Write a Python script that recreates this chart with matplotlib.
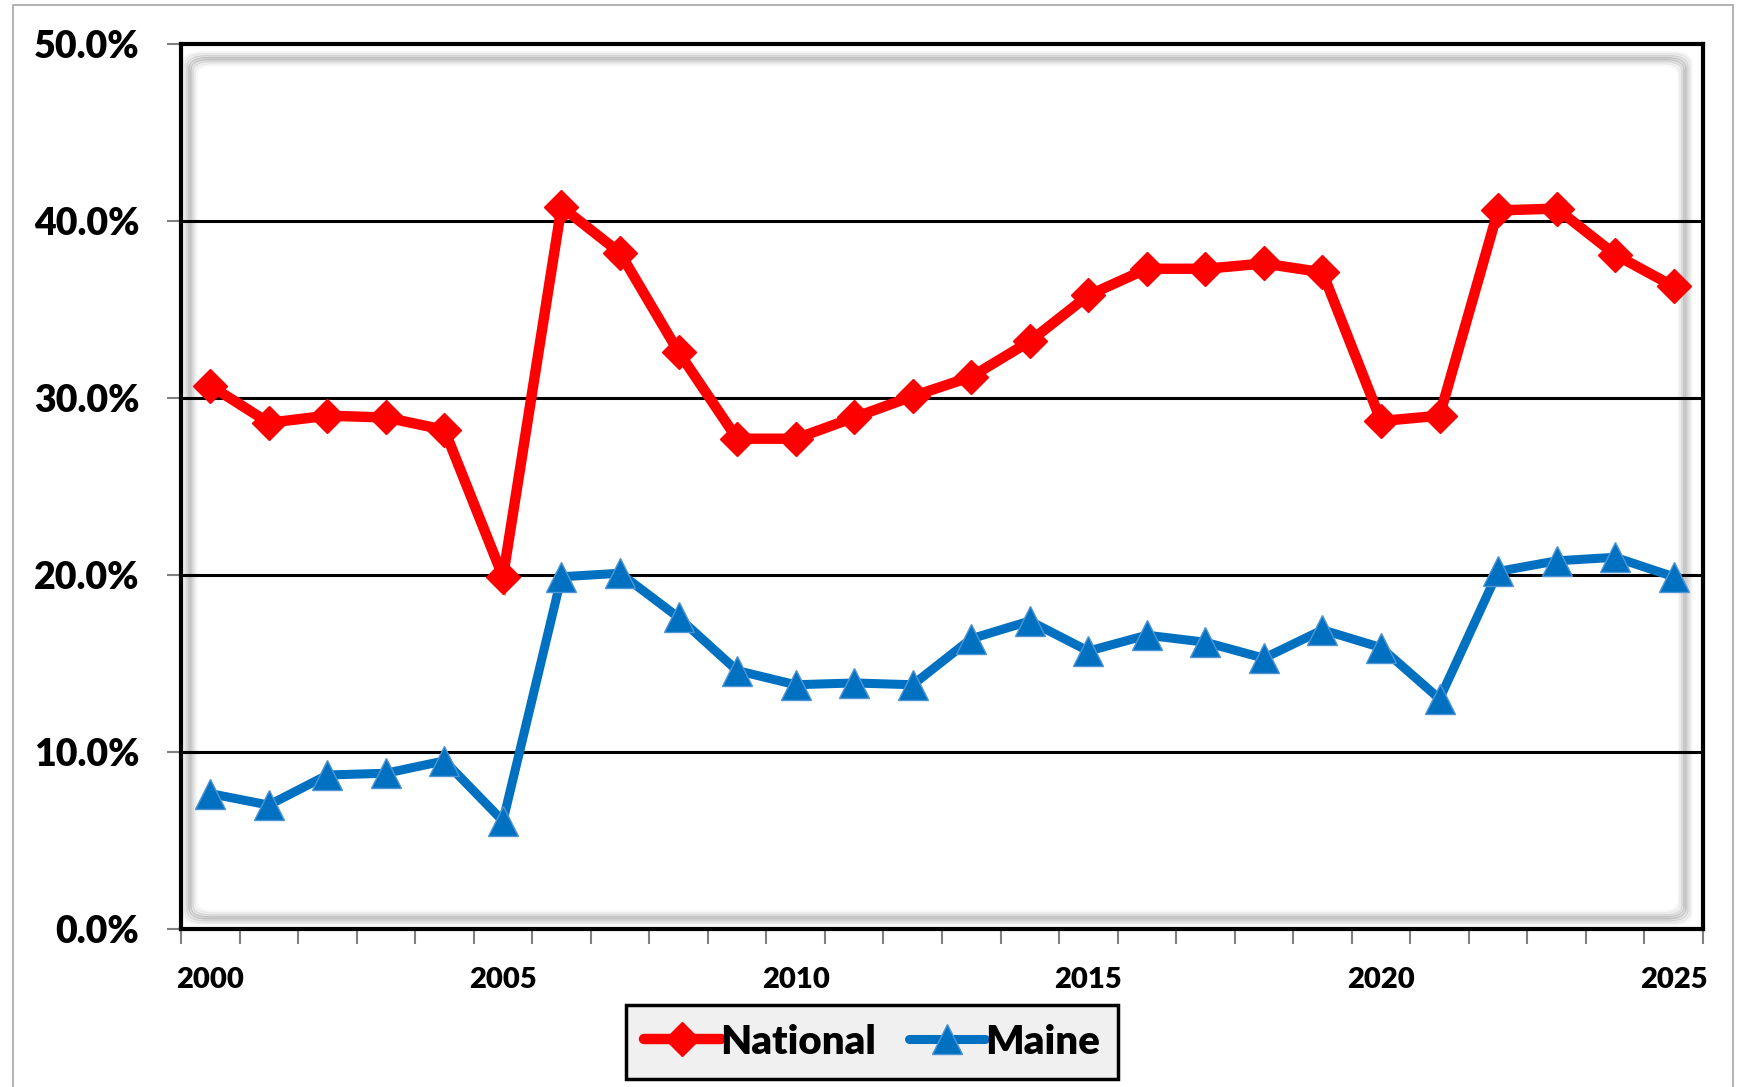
import matplotlib
matplotlib.use("Agg")
import matplotlib.pyplot as plt
from matplotlib.lines import Line2D
from matplotlib.patches import FancyBboxPatch, Rectangle
import numpy as np

plt.rcParams['font.family'] = ['Lato', 'DejaVu Sans']
plt.rcParams['font.weight'] = 'heavy'

# Data
years = list(range(2000, 2026))
national = [30.7, 28.6, 29.0, 28.9, 28.2, 19.9, 40.8, 38.2, 32.6, 27.7,
            27.7, 28.9, 30.1, 31.2, 33.2, 35.8, 37.3, 37.3, 37.6, 37.1,
            28.7, 29.0, 40.6, 40.7, 38.1, 36.3]
maine = [7.65, 7.0, 8.7, 8.8, 9.5, 6.1, 19.9, 20.1, 17.6, 14.6,
         13.8, 13.9, 13.8, 16.4, 17.4, 15.7, 16.6, 16.2, 15.3, 16.9,
         15.9, 13.0, 20.2, 20.8, 21.0, 19.9]
y_ticks = [0, 10, 20, 30, 40, 50]
label_years = [2000, 2005, 2010, 2015, 2020, 2025]

RED = '#FF0000'
BLUE = '#0070C0'
BLUE_EDGE = '#4F94D4'

fig = plt.figure(figsize=(17.4, 10.87), dpi=100)
fig.patch.set_facecolor('white')
# outer chart border
fig.patches.append(Rectangle((13/1740, -0.01), (1733-13)/1740, 1.0 - 5/1087 + 0.01,
                             transform=fig.transFigure, fill=False,
                             edgecolor='#a6a6a6', linewidth=1.2))

ax = fig.add_axes([181/1740, 158/1087, (1703-181)/1740, (1043-158)/1087])
x = np.arange(len(years))

# inner shadow of plot area (soft grey rounded frame)
for i, a in enumerate([0.04, 0.07, 0.11, 0.15, 0.11, 0.06, 0.03]):
    ox = 0.002 + i*0.0013
    oy = 0.006 + i*0.0022
    ax.add_patch(FancyBboxPatch((ox, oy), 0.994 - 2*ox, 0.992 - 2*oy + 0.004,
                                boxstyle="round,pad=0,rounding_size=0.012",
                                transform=ax.transAxes, fill=False,
                                edgecolor='black', alpha=a, linewidth=2.5, zorder=0.5))

for v in y_ticks[1:-1]:
    ax.axhline(v, color='black', linewidth=2.2, zorder=1)

ax.plot(x, national, color=RED, linewidth=7.5, marker='D', markersize=17,
        markeredgecolor=RED, solid_joinstyle='miter', zorder=3, label='National')
ax.plot(x, maine, color=BLUE, linewidth=6.5, marker='^', markersize=22,
        markeredgecolor=BLUE_EDGE, markeredgewidth=1, zorder=3, label='Maine')

ax.set_xlim(-0.5, len(years) - 0.5)
ax.set_ylim(0, 50)

ax.set_yticks(y_ticks)
ax.set_yticklabels(['%.1f%%' % v for v in y_ticks], fontsize=27, fontweight='heavy')
ax.set_xticks(np.arange(len(years) + 1) - 0.5)
ax.set_xticklabels([])
ax.set_xticks([years.index(y) for y in label_years], minor=True)
ax.set_xticklabels([str(y) for y in label_years], minor=True, fontsize=21, fontweight='heavy')

ax.tick_params(axis='y', which='major', length=10, width=1.5, color='#808080', pad=20)
ax.tick_params(axis='x', which='major', length=11, width=1.5, color='#808080')
ax.tick_params(axis='x', which='minor', length=0, pad=27)

for s in ax.spines.values():
    s.set_linewidth(3)
    s.set_color('black')

handles = [Line2D([], [], color=RED, linewidth=7.5, marker='D', markersize=17,
                  solid_capstyle='round'),
           Line2D([], [], color=BLUE, linewidth=6.5, marker='^', markersize=22,
                  markeredgecolor=BLUE_EDGE, solid_capstyle='round')]
leg = fig.legend(handles, ['National', 'Maine'], loc='center',
                 bbox_to_anchor=(872/1740, 1 - 1042/1087), ncol=2,
                 frameon=True, fancybox=False, handlelength=1.9,
                 handletextpad=0.0, columnspacing=0.8, borderpad=0.45,
                 prop={'weight': 'heavy', 'size': 29})
leg.get_frame().set_facecolor('#f0f0f0')
leg.get_frame().set_edgecolor('black')
leg.get_frame().set_linewidth(2.5)
leg.get_frame().set_alpha(1)

fig.savefig('out.png', dpi=100)
